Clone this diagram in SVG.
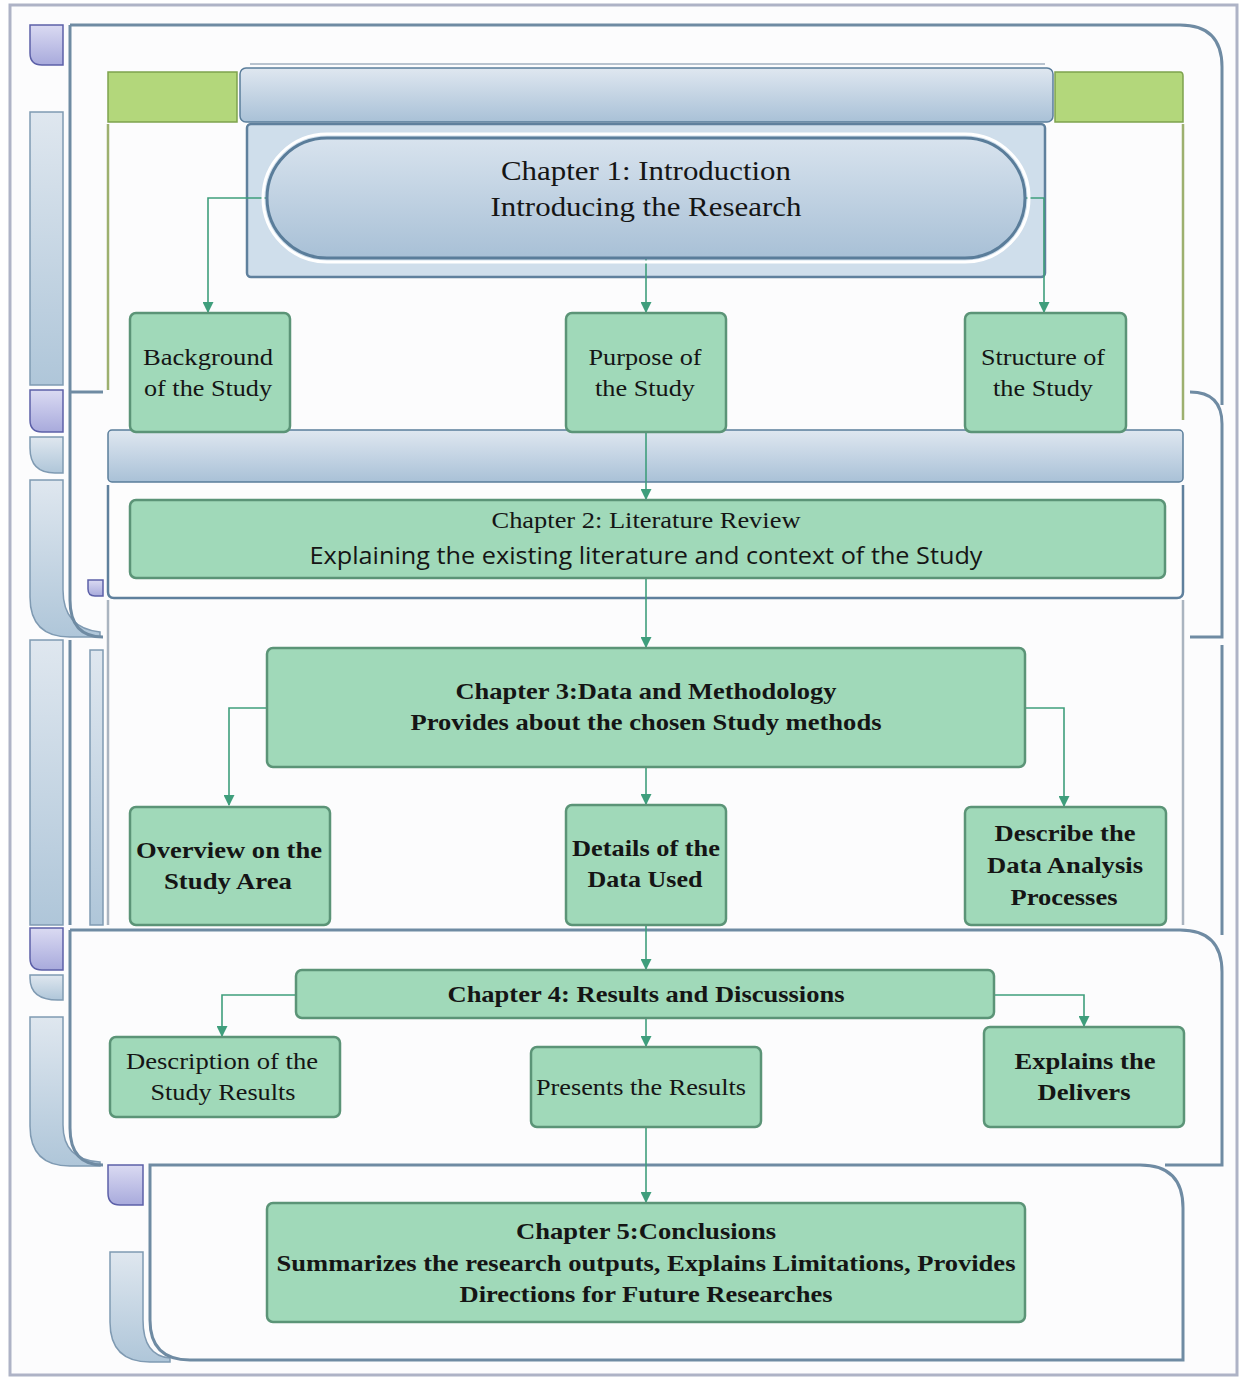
<svg xmlns="http://www.w3.org/2000/svg" width="1239" height="1377" viewBox="0 0 1239 1377">
<defs>
<style>
.frame{fill:none;stroke:#6f8ba3;stroke-width:3}
.lframe{fill:none;stroke:#aab4c0;stroke-width:2.5}
.node{fill:#a0d9b9;stroke:#5b9477;stroke-width:2.5}
.t{font-family:"Liberation Serif","Times New Roman",serif;fill:#151515;text-anchor:middle}
.b{font-weight:bold}
.s{font-family:"Open Sans","Noto Sans",sans-serif;fill:#151515;text-anchor:middle}
.conn{fill:none;stroke:#3f9e7c;stroke-width:1.6}
.purple{fill:url(#gPurple);stroke:#5c60a8;stroke-width:1.5}
.lbar{fill:url(#gLbar);stroke:#7f9ab2;stroke-width:1.5}
.gbar{fill:#b3d77b;stroke:#7ea34e;stroke-width:1.5}
.bband{fill:url(#gBand);stroke:#5a7d9b;stroke-width:1.5}
</style>
<linearGradient id="gBand" x1="0" y1="0" x2="0" y2="1"><stop offset="0" stop-color="#dfe7f0"/><stop offset="1" stop-color="#a9c1d7"/></linearGradient>
<linearGradient id="gPill" x1="0" y1="0" x2="0" y2="1"><stop offset="0" stop-color="#d8e3ee"/><stop offset="1" stop-color="#a8c0d6"/></linearGradient>
<linearGradient id="gPurple" x1="0" y1="0" x2="0" y2="1"><stop offset="0" stop-color="#dadaf2"/><stop offset="1" stop-color="#a8aadc"/></linearGradient>
<linearGradient id="gLbar" x1="0" y1="0" x2="0" y2="1"><stop offset="0" stop-color="#dfe7ef"/><stop offset="1" stop-color="#afc6d9"/></linearGradient>
<marker id="arr" viewBox="0 0 10 10" refX="9" refY="5" markerWidth="11" markerHeight="11" orient="auto" markerUnits="userSpaceOnUse"><path d="M0,0 L10,5 L0,10 z" fill="#3f9e7c"/></marker>
</defs>

<g id="background">
<rect x="10" y="5" width="1227" height="1370" fill="#fcfcfd" stroke="#aeb3c6" stroke-width="3"/>
<path class="purple" d="M30,25 H63 V65 H42 Q30,65 30,53 Z"/>
<rect class="lbar" x="30" y="112" width="33" height="273"/>
<path class="purple" d="M30,390 H63 V432 H42 Q30,432 30,420 Z"/>
<path class="lbar" d="M30,437 H63 V473 H55 Q30,473 30,448 Z"/>
<path class="lbar" d="M30,480 H63 V590 Q63,628 100,632 V637 H70 Q30,637 30,597 Z"/>
<rect class="lbar" x="30" y="640" width="33" height="285"/>
<path class="purple" d="M30,928 H63 V970 H42 Q30,970 30,958 Z"/>
<path class="lbar" d="M30,975 H63 V1000 H58 Q30,1000 30,978 Z"/>
<path class="lbar" d="M30,1017 H63 V1125 Q63,1160 100,1162 V1166 H70 Q30,1166 30,1126 Z"/>
<path class="purple" d="M108,1165 H143 V1205 H120 Q108,1205 108,1193 Z"/>
<path class="lbar" d="M110,1252 H143 V1320 Q143,1356 170,1358 V1362 H150 Q110,1362 110,1322 Z"/>
<path class="purple" d="M88,580 H103 V596 H95 Q88,596 88,589 Z"/>
<rect class="lbar" x="90" y="650" width="13" height="275"/>
<path class="frame" d="M70,25 H1180 Q1222,25 1222,67 V405"/>
<path class="frame" d="M70,25 V600 Q70,637 103,637"/>
<path class="frame" d="M70,392 H103"/>
<path class="frame" d="M1190,392 Q1222,392 1222,424 V637 H1190"/>
<path class="frame" d="M70,640 V925"/>
<path class="frame" d="M1222,645 V935"/>
<path class="lframe" d="M108,600 V925"/>
<path class="lframe" d="M1183,600 V925"/>
<path class="frame" d="M70,930 H1180 Q1222,930 1222,972 V1165 H1165"/>
<path class="frame" d="M70,930 V1128 Q70,1165 103,1165"/>
<path class="frame" d="M150,1165 H1140 Q1183,1165 1183,1208 V1360 H190 Q150,1360 150,1320 Z"/>
<path class="gbar" d="M108,72 H237 V122 H108 Z"/>
<path class="gbar" d="M1055,72 H1180 Q1183,72 1183,76 V122 H1055 Z"/>
<path d="M250,64 H1045" stroke="#b8c3cf" stroke-width="2" fill="none"/>
<rect class="bband" x="240" y="68" width="813" height="54" rx="6"/>
<rect x="247" y="124" width="798" height="153" rx="4" fill="#cfdeeb" stroke="#5f809d" stroke-width="2.5"/>
<path d="M108,124 V390" stroke="#9db06f" stroke-width="2.5" fill="none"/>
<path d="M1183,124 V420" stroke="#9db06f" stroke-width="2.5" fill="none"/>
<rect class="bband" x="108" y="430" width="1075" height="52" rx="4"/>
<path d="M108,485 V592 Q108,598 114,598 H1177 Q1183,598 1183,592 V485" fill="#fdfdfd" stroke="#5f809d" stroke-width="2.5"/>
</g>

<g id="connectors">
<path class="conn" d="M267,198 H208 V312" marker-end="url(#arr)"/>
<path class="conn" d="M646,258 V312" marker-end="url(#arr)"/>
<path class="conn" d="M1025,198 H1044 V312" marker-end="url(#arr)"/>
<path class="conn" d="M646,432 V499" marker-end="url(#arr)"/>
<path class="conn" d="M646,578 V647" marker-end="url(#arr)"/>
<path class="conn" d="M267,708 H229 V805" marker-end="url(#arr)"/>
<path class="conn" d="M646,767 V804" marker-end="url(#arr)"/>
<path class="conn" d="M1025,708 H1064 V806" marker-end="url(#arr)"/>
<path class="conn" d="M646,925 V969" marker-end="url(#arr)"/>
<path class="conn" d="M296,995 H222 V1036" marker-end="url(#arr)"/>
<path class="conn" d="M646,1018 V1046" marker-end="url(#arr)"/>
<path class="conn" d="M994,995 H1084 V1026" marker-end="url(#arr)"/>
<path class="conn" d="M646,1127 V1202" marker-end="url(#arr)"/>
</g>

<g id="ch1">
<rect x="267" y="138" width="758" height="120" rx="60" fill="url(#gPill)" stroke="#5a7d9a" stroke-width="3"/>
<rect x="263" y="134" width="766" height="128" rx="64" fill="none" stroke="#ffffff" stroke-width="3"/>
<text class="t" x="646" y="180" font-size="28" textLength="290" lengthAdjust="spacingAndGlyphs">Chapter 1: Introduction</text>
<text class="t" x="646" y="216" font-size="28" textLength="311" lengthAdjust="spacingAndGlyphs">Introducing the Research</text>
</g>
<g id="background-of-study">
<rect class="node" x="130" y="313" width="160" height="119" rx="6"/>
<text class="t" x="208" y="365" font-size="24" textLength="130" lengthAdjust="spacingAndGlyphs">Background</text>
<text class="t" x="208" y="396" font-size="24" textLength="128" lengthAdjust="spacingAndGlyphs">of the Study</text>
</g>
<g id="purpose-of-study">
<rect class="node" x="566" y="313" width="160" height="119" rx="6"/>
<text class="t" x="645" y="365" font-size="24" textLength="113" lengthAdjust="spacingAndGlyphs">Purpose of</text>
<text class="t" x="645" y="396" font-size="24" textLength="100" lengthAdjust="spacingAndGlyphs">the Study</text>
</g>
<g id="structure-of-study">
<rect class="node" x="965" y="313" width="161" height="119" rx="6"/>
<text class="t" x="1043" y="365" font-size="24" textLength="124" lengthAdjust="spacingAndGlyphs">Structure of</text>
<text class="t" x="1043" y="396" font-size="24" textLength="100" lengthAdjust="spacingAndGlyphs">the Study</text>
</g>
<g id="ch2">
<rect class="node" x="130" y="500" width="1035" height="78" rx="6"/>
<text class="t" x="646" y="528" font-size="23" textLength="309" lengthAdjust="spacingAndGlyphs">Chapter 2: Literature Review</text>
<text class="s" x="646" y="564" font-size="23" textLength="673" lengthAdjust="spacingAndGlyphs">Explaining the existing literature and context of the Study</text>
</g>
<g id="ch3">
<rect class="node" x="267" y="648" width="758" height="119" rx="6"/>
<text class="t b" x="646" y="699" font-size="23" textLength="381" lengthAdjust="spacingAndGlyphs">Chapter 3:Data and Methodology</text>
<text class="t b" x="646" y="730" font-size="23" textLength="471" lengthAdjust="spacingAndGlyphs">Provides about the chosen Study methods</text>
</g>
<g id="overview-study-area">
<rect class="node" x="130" y="807" width="200" height="118" rx="6"/>
<text class="t b" x="229" y="858" font-size="23" textLength="186" lengthAdjust="spacingAndGlyphs">Overview on the</text>
<text class="t b" x="228" y="889" font-size="23" textLength="128" lengthAdjust="spacingAndGlyphs">Study Area</text>
</g>
<g id="details-data-used">
<rect class="node" x="566" y="805" width="160" height="120" rx="6"/>
<text class="t b" x="646" y="856" font-size="23" textLength="148" lengthAdjust="spacingAndGlyphs">Details of the</text>
<text class="t b" x="645" y="887" font-size="23" textLength="115" lengthAdjust="spacingAndGlyphs">Data Used</text>
</g>
<g id="describe-data-analysis">
<rect class="node" x="965" y="807" width="201" height="118" rx="6"/>
<text class="t b" x="1065" y="841" font-size="23" textLength="141" lengthAdjust="spacingAndGlyphs">Describe the</text>
<text class="t b" x="1065" y="873" font-size="23" textLength="156" lengthAdjust="spacingAndGlyphs">Data Analysis</text>
<text class="t b" x="1064" y="905" font-size="23" textLength="107" lengthAdjust="spacingAndGlyphs">Processes</text>
</g>
<g id="ch4">
<rect class="node" x="296" y="970" width="698" height="48" rx="6"/>
<text class="t b" x="646" y="1002" font-size="23" textLength="397" lengthAdjust="spacingAndGlyphs">Chapter 4: Results and Discussions</text>
</g>
<g id="description-study-results">
<rect class="node" x="110" y="1037" width="230" height="80" rx="6"/>
<text class="t" x="222" y="1069" font-size="24" textLength="192" lengthAdjust="spacingAndGlyphs">Description of the</text>
<text class="t" x="223" y="1100" font-size="24" textLength="145" lengthAdjust="spacingAndGlyphs">Study Results</text>
</g>
<g id="presents-results">
<rect class="node" x="531" y="1047" width="230" height="80" rx="6"/>
<text class="t" x="641" y="1095" font-size="24" textLength="210" lengthAdjust="spacingAndGlyphs">Presents the Results</text>
</g>
<g id="explains-delivers">
<rect class="node" x="984" y="1027" width="200" height="100" rx="6"/>
<text class="t b" x="1085" y="1069" font-size="24" textLength="141" lengthAdjust="spacingAndGlyphs">Explains the</text>
<text class="t b" x="1084" y="1100" font-size="24" textLength="93" lengthAdjust="spacingAndGlyphs">Delivers</text>
</g>
<g id="ch5">
<rect class="node" x="267" y="1203" width="758" height="119" rx="6"/>
<text class="t b" x="646" y="1239" font-size="23" textLength="260" lengthAdjust="spacingAndGlyphs">Chapter 5:Conclusions</text>
<text class="t b" x="646" y="1271" font-size="23" textLength="739" lengthAdjust="spacingAndGlyphs">Summarizes the research outputs, Explains Limitations, Provides</text>
<text class="t b" x="646" y="1302" font-size="23" textLength="373" lengthAdjust="spacingAndGlyphs">Directions for Future Researches</text>
</g>
</svg>
